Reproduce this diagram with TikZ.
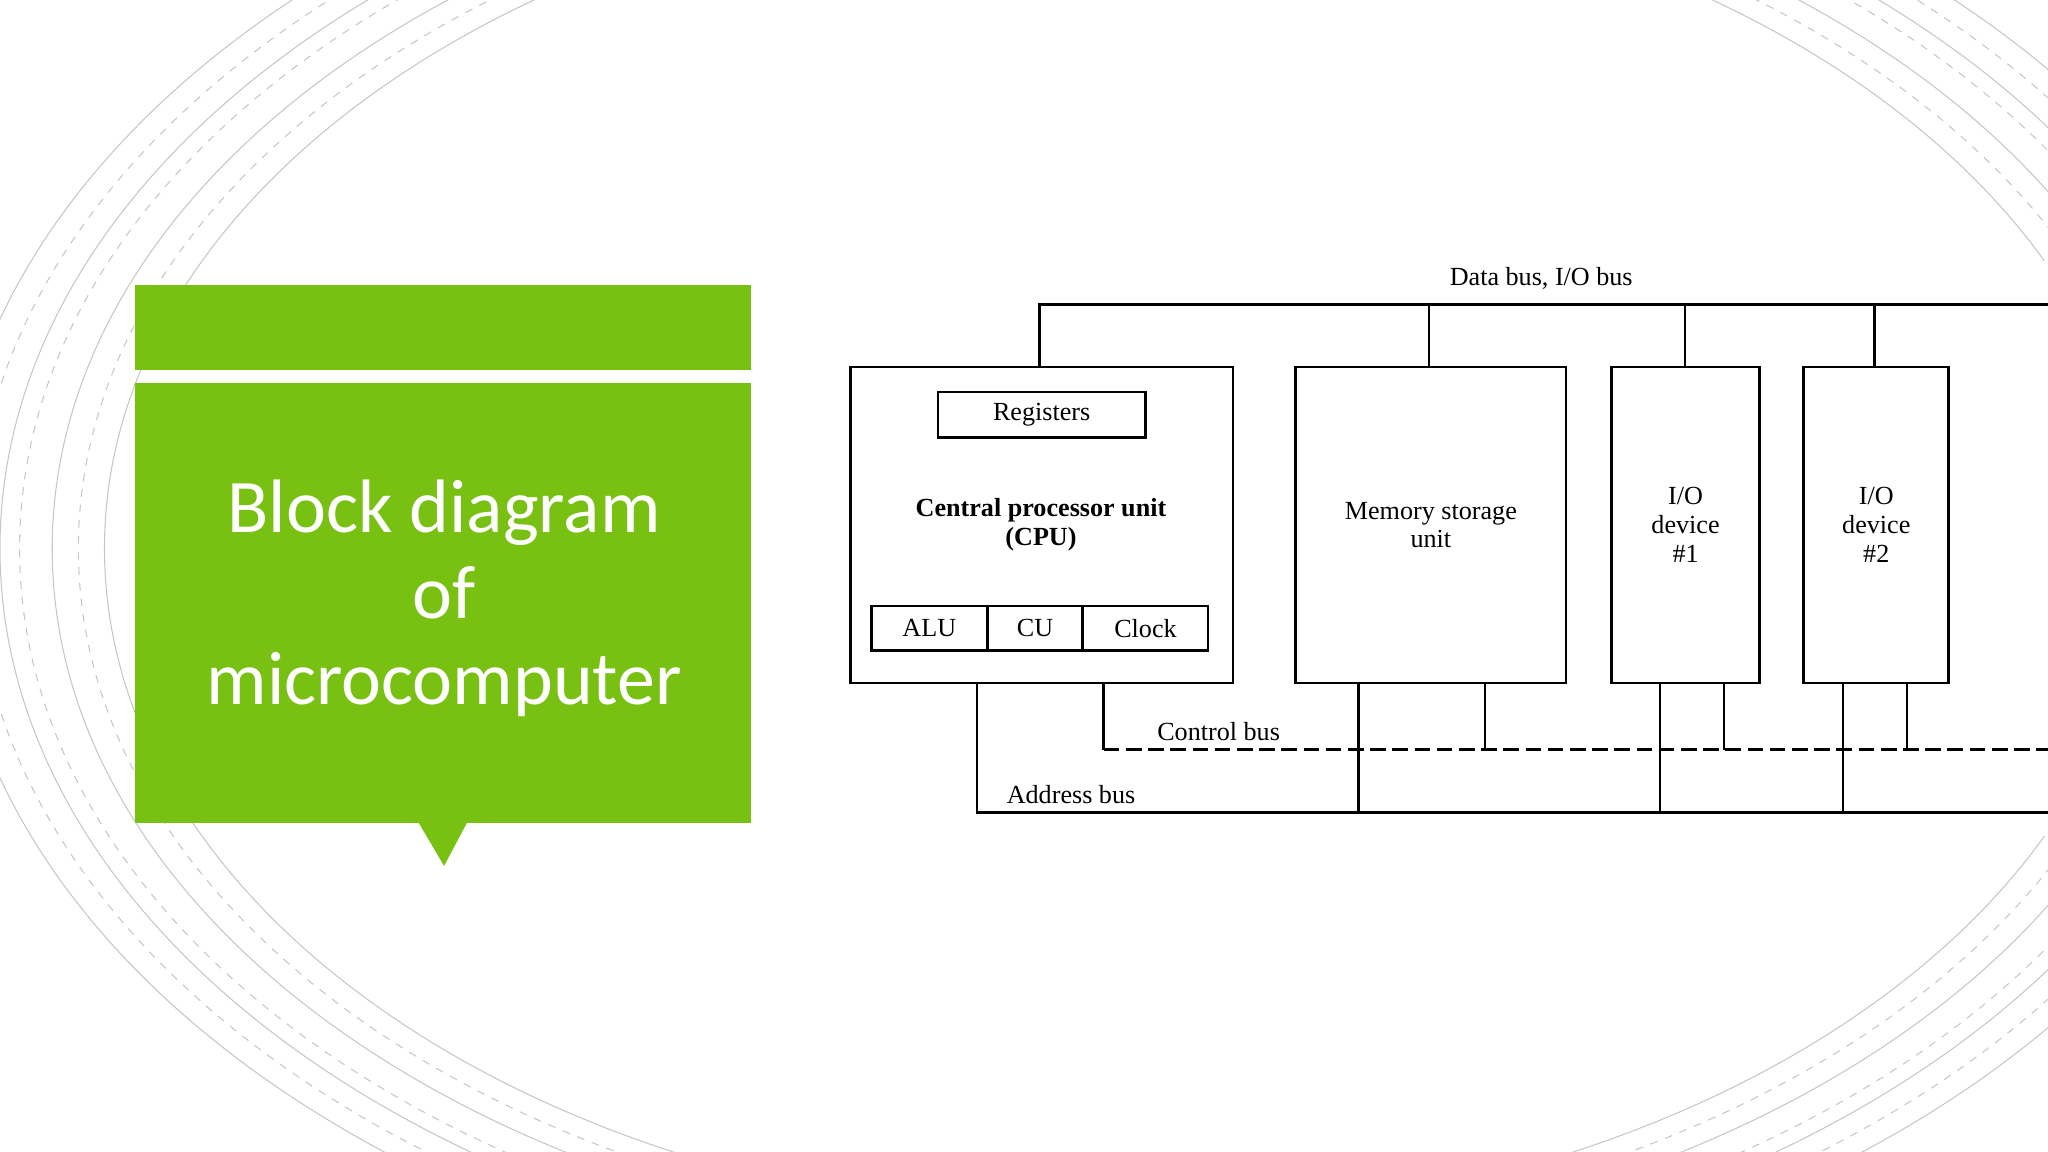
\documentclass[tikz,border=0pt]{standalone}
\usepackage{fontspec}
\setmainfont{Liberation Serif}
\newfontfamily\titlefont{Carlito}
\definecolor{leaf}{HTML}{78C112}
\begin{document}
\begin{tikzpicture}[x=0.5pt,y=-0.5pt,
  box/.style={draw,line width=1pt},
  bus/.style={line width=1pt},
  arc/.style={draw=gray!45,line width=0.4pt},
  lbl/.style={font=\fontsize{10}{11}\selectfont,inner sep=0pt,align=center}]
\useasboundingbox (0,0) rectangle (1568,882);
\begin{scope}
\clip (0,0) rectangle (1568,882);
\foreach \r in {780,820,860,900}{\draw[arc] (860,420) circle[x radius=\r,y radius=\r*0.66];}
\foreach \r in {800,845,880}{\draw[arc,dashed] (860,420) circle[x radius=\r,y radius=\r*0.66];}
\end{scope}
% green panel
\fill[leaf] (103,218) rectangle (575,283);
\fill[leaf] (103,293) rectangle (575,630);
\fill[leaf] (320,629) -- (358,629) -- (340,663) -- cycle;
\node[text=white,align=center,font=\titlefont\fontsize{29}{33}\selectfont] (title) at (340,458) {Block diagram\\of\\microcomputer};
% boxes
\fill[white] (640,200) rectangle (1568,640);
\node[box,minimum width=146.5pt,minimum height=121pt] (cpu) at (797.5,402) {};
\node[box,minimum width=79.5pt,minimum height=17.5pt,lbl] (reg) at (797.5,317.5) {Registers};
\node[lbl,font=\bfseries\fontsize{10}{11}\selectfont] (cpul) at (797,402) {Central processor unit\\(CPU)};
\node[box,minimum width=44.5pt,minimum height=17pt,lbl] (alu) at (711.5,481) {ALU};
\node[box,minimum width=36.5pt,minimum height=17pt,lbl] (cu) at (792.5,481) {CU};
\node[box,minimum width=48pt,minimum height=17pt,lbl] (clk) at (877,481) {Clock};
\node[box,minimum width=103.5pt,minimum height=121pt,lbl] (mem) at (1095.5,402) {Memory storage\\unit};
\node[box,minimum width=56.5pt,minimum height=121pt,lbl] (io1) at (1290.5,402) {I/O\\device\\\#1};
\node[box,minimum width=55.5pt,minimum height=121pt,lbl] (io2) at (1436.5,402) {I/O\\device\\\#2};
% data bus
\coordinate (dend) at (1568,233);
\draw[bus] (cpu.north -| 796,0) |- (dend);
\draw[bus] (mem.north -| 1094,0) -- (1094,233);
\draw[bus] (io1.north -| 1290,0) -- (1290,233);
\draw[bus] (io2.north -| 1435,0) -- (1435,233);
\node[lbl] (dbl) at (1180,213) {Data bus, I/O bus};
% control bus
\coordinate (cend) at (1568,574);
\draw[bus] (cpu.south -| 845,0) -- (845,574);
\draw[bus,dashed,dash pattern=on 6pt off 2.5pt] (845,574) -- (cend);
\foreach \x/\n in {1137/mem,1320/io1,1460/io2}{\draw[bus] (\n.south -| \x,0) -- (\x,574);}
\node[lbl] (cbl) at (933,560) {Control bus};
% address bus
\coordinate (aend) at (1568,622);
\draw[bus] (cpu.south -| 748,0) |- (aend);
\foreach \x/\n in {1040/mem,1271/io1,1411/io2}{\draw[bus] (\n.south -| \x,0) -- (\x,622);}
\node[lbl] (abl) at (820,608) {Address bus};
\end{tikzpicture}
\end{document}
